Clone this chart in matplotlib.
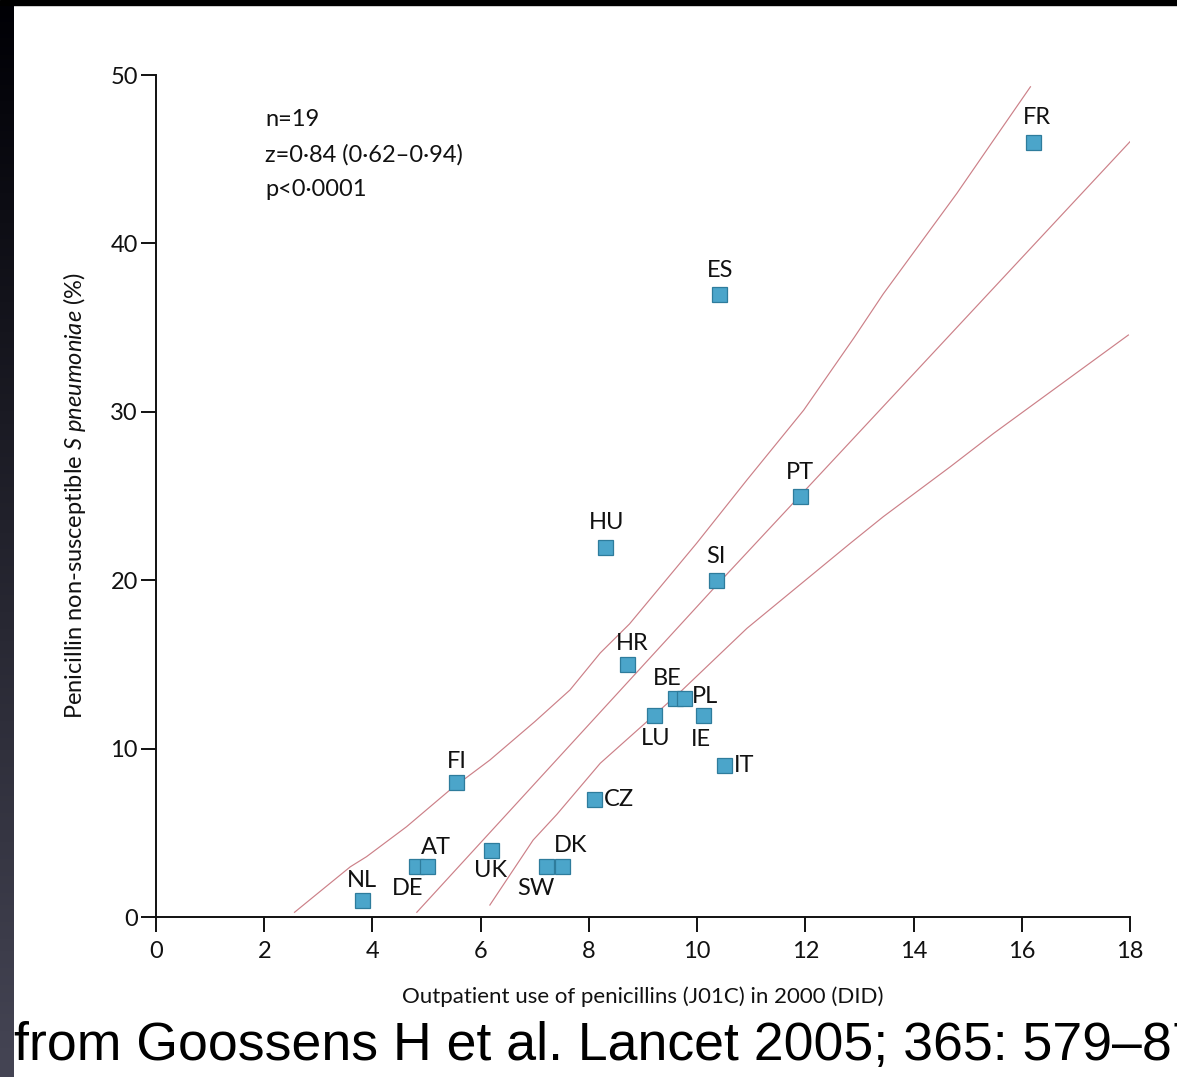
import numpy as np
import matplotlib
matplotlib.use("Agg")
import matplotlib.pyplot as plt
from matplotlib.patches import Rectangle

# country data: outpatient penicillin use (DID) vs non-susceptible S pneumoniae (%)
countries = ["FR", "ES", "PT", "HU", "SI", "HR", "BE", "PL", "LU", "IE",
             "IT", "CZ", "FI", "NL", "DE", "AT", "UK", "SW", "DK"]
use_did = [16.2, 10.4, 11.9, 8.3, 10.35, 8.7, 9.6, 9.75, 9.2, 10.1,
           10.5, 8.1, 5.55, 3.8, 4.8, 5.0, 6.2, 7.2, 7.5]
nonsusc = [46, 37, 25, 22, 20, 15, 13, 13, 12, 12,
           9, 7, 8, 1, 3, 3, 4, 3, 3]

# regression line and confidence band
fit_x = [4.82, 10.36, 18.0]
fit_y = [0.28, 19.7, 46.04]
upper_x = [2.56, 3.59, 3.89, 4.63, 5.43, 6.17, 7.0, 7.65, 8.21, 8.75, 9.99,
           10.92, 11.97, 12.9, 13.44, 14.8, 15.48, 16.16]
upper_y = [0.28, 2.98, 3.58, 5.36, 7.54, 9.32, 11.6, 13.48, 15.68, 17.4, 22.19,
           25.95, 30.1, 34.4, 37.0, 42.97, 46.14, 49.3]
lower_x = [6.17, 6.97, 7.41, 8.21, 9.7, 10.92, 12.83, 13.44, 14.68, 15.48, 17.97]
lower_y = [0.71, 4.57, 6.1, 9.13, 13.4, 17.14, 22.19, 23.77, 26.74, 28.72, 34.56]

stats_lines = ["n=19", "z=0·84 (0·62–0·94)", "p<0·0001"]
caption = "from Goossens H et al. Lancet 2005; 365: 579–87"

# where each label goes relative to its marker (offset in points)
label_pos = {
    "FR": (3, 18, "center", "center"), "ES": (1, 17, "center", "center"),
    "PT": (0, 17, "center", "center"), "HU": (1, 17, "center", "center"),
    "SI": (0, 17, "center", "center"), "HR": (4, 15, "center", "center"),
    "BE": (-6, 14, "center", "center"), "PL": (6, 1, "left", "center"),
    "LU": (1, -17, "center", "center"), "IE": (-1, -18, "center", "center"),
    "IT": (7, 0, "left", "center"), "CZ": (7, 0, "left", "center"),
    "FI": (0, 15, "center", "center"), "NL": (0, 14, "center", "center"),
    "DE": (-6, -16, "center", "center"), "AT": (7, 14, "center", "center"),
    "UK": (-1, -15, "center", "center"), "SW": (-7, -16, "center", "center"),
    "DK": (6, 15, "center", "center"),
}

font = ["Lato", "DejaVu Sans"]
plt.rcParams["font.family"] = font
plt.rcParams["mathtext.fontset"] = "custom"
plt.rcParams["mathtext.it"] = "Lato:italic"
plt.rcParams["mathtext.rm"] = "Lato"

W, H = 1177, 1077
fig = plt.figure(figsize=(W / 100, H / 100), dpi=100)
fig.patch.set_facecolor("white")

# dark slide border: thin black strip on top, gradient strip on the left
fig.patches.append(Rectangle((0, 1 - 5 / H), 1, 5 / H, transform=fig.transFigure,
                             color="black", zorder=0))
gax = fig.add_axes([0, 0, 14 / W, 1 - 5 / H])
grad = np.linspace(0, 1, 256)[:, None]
c0 = np.array([0.0, 0.0, 0.02])
c1 = np.array([0.27, 0.27, 0.33])
img = c0 + (c1 - c0) * grad[..., None]
gax.imshow(img, aspect="auto", extent=[0, 1, 0, 1], origin="upper")
gax.axis("off")

ax = fig.add_axes([156 / W, 1 - 917 / H, (1130 - 156) / W, (917 - 75) / H])
ax.set_xlim(0, 18)
ax.set_ylim(0, 50)

line_kw = dict(color="#cc8088", lw=0.85, zorder=2)
ax.plot(fit_x, fit_y, **line_kw)
ax.plot(upper_x, upper_y, **line_kw)
ax.plot(lower_x, lower_y, **line_kw)

ax.plot(use_did, nonsusc, "s", ms=10.8, mfc="#4ba5ca", mec="#2e7c9c", mew=0.9,
        ls="none", zorder=3, clip_on=False)

for name, xv, yv in zip(countries, use_did, nonsusc):
    dx, dy, ha, va = label_pos[name]
    ax.annotate(name, (xv, yv), xytext=(dx, dy), textcoords="offset points",
                ha=ha, va=va, fontsize=17, color="#111111", zorder=4)

for i, s in enumerate(stats_lines):
    fig.text(265 / W, 1 - (120 + 35 * i) / H, s, fontsize=17, va="center",
             ha="left", color="#111111")

for side in ["top", "right"]:
    ax.spines[side].set_visible(False)
for side in ["left", "bottom"]:
    ax.spines[side].set_linewidth(1.4)
    ax.spines[side].set_color("#111111")

ax.set_xticks(np.arange(0, 19, 2))
ax.set_yticks(np.arange(0, 51, 10))
ax.tick_params(axis="both", direction="out", length=11, width=1.4,
               labelsize=17, colors="#111111")
ax.tick_params(axis="x", pad=6)
ax.tick_params(axis="y", pad=2)

ax.set_xlabel("Outpatient use of penicillins (J01C) in 2000 (DID)", fontsize=16,
              labelpad=18, color="#111111")
ax.set_ylabel(r"Penicillin non-susceptible $\mathit{S\ pneumoniae}$ (%)",
              fontsize=17, labelpad=16, color="#111111")

fig.text(14 / W, 1 - 1060 / H, caption, fontsize=38.6,
         family=["Liberation Sans", "DejaVu Sans"],
         ha="left", va="baseline", color="black")

fig.savefig("out.png", dpi=100)
